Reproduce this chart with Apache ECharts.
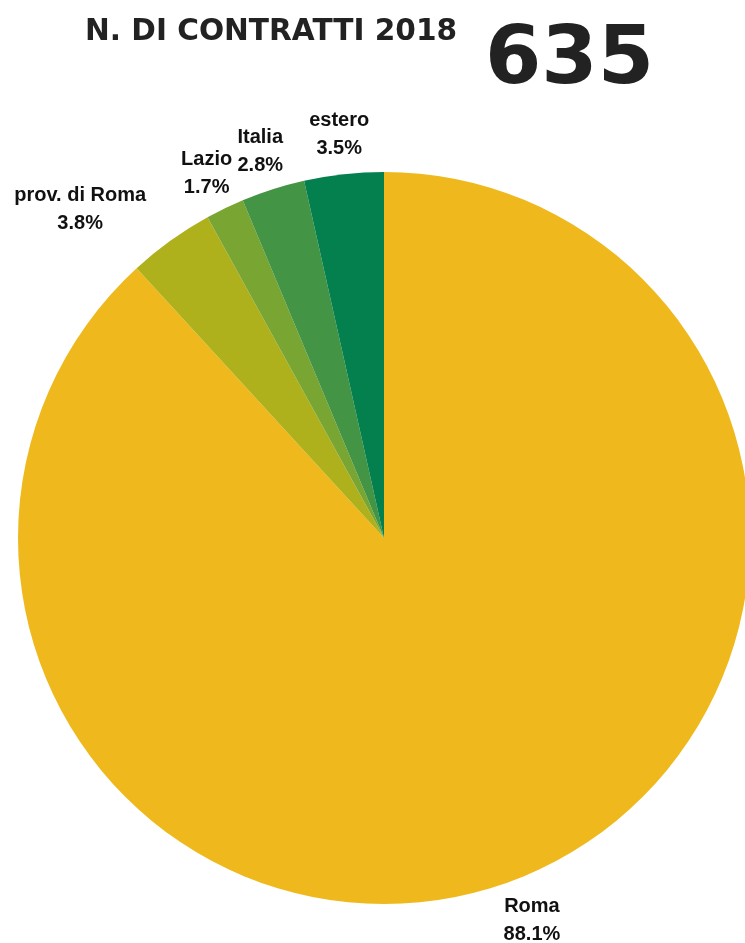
<!DOCTYPE html>
<html><head><meta charset="utf-8">
<script src="https://cdn.jsdelivr.net/npm/echarts@6/dist/echarts.min.js"></script>
<style>html,body{margin:0;padding:0;background:#fff}#c{width:745px;height:943px}</style>
</head><body><div id="c"></div>
<script>
const categories = ['Roma', 'prov. di Roma', 'Lazio', 'Italia', 'estero'];
const values = [88.1, 3.8, 1.7, 2.8, 3.5];
const colors = ['#EFB81C', '#AFB11C', '#79A532', '#439444', '#03804E'];
const titleText = 'N. DI CONTRATTI 2018';
const totalText = '635';

const CX = 384, CY = 538, R = 366, LR = 408;
const total = values.reduce((a, b) => a + b, 0);
const mids = [];
let acc = 0;
values.forEach(v => { mids.push((acc + v / 2) / total * 2 * Math.PI); acc += v; });

const chart = echarts.init(document.getElementById('c'));
chart.setOption({
  animation: false,
  title: [
    { text: titleText, left: 85, top: 17.5, padding: 0,
      textStyle: { fontFamily: 'DejaVu Sans', fontWeight: 'bold', fontSize: 29.6, color: '#222222' } },
    { text: totalText, left: 485, top: 21.6, padding: 0,
      textStyle: { fontFamily: 'DejaVu Sans', fontWeight: 'bold', fontSize: 81, color: '#222222' } }
  ],
  series: [{
    type: 'pie',
    center: [CX, CY],
    radius: R,
    startAngle: 90,
    clockwise: true,
    avoidLabelOverlap: false,
    silent: true,
    data: categories.map((n, i) => ({ name: n, value: values[i], itemStyle: { color: colors[i] } })),
    label: {
      show: true, position: 'outside',
      formatter: p => p.name + '\n' + p.value.toFixed(1) + '%',
      fontFamily: 'Liberation Sans', fontWeight: 'bold', fontSize: 20, lineHeight: 28, color: '#111111'
    },
    labelLine: { show: false },
    labelLayout: function (p) {
      const a = mids[p.dataIndex];
      const dx = Math.sin(a), dy = -Math.cos(a);
      const side = Math.abs(dx) > 0.5;
      const w = p.labelRect.width;
      const x = CX + dx * LR + (side ? (dx < 0 ? -w / 2 : w / 2) : 0);
      return { x: x, y: CY + dy * LR + 2.5, align: 'center', verticalAlign: 'middle' };
    }
  }]
});
</script>
</body></html>
